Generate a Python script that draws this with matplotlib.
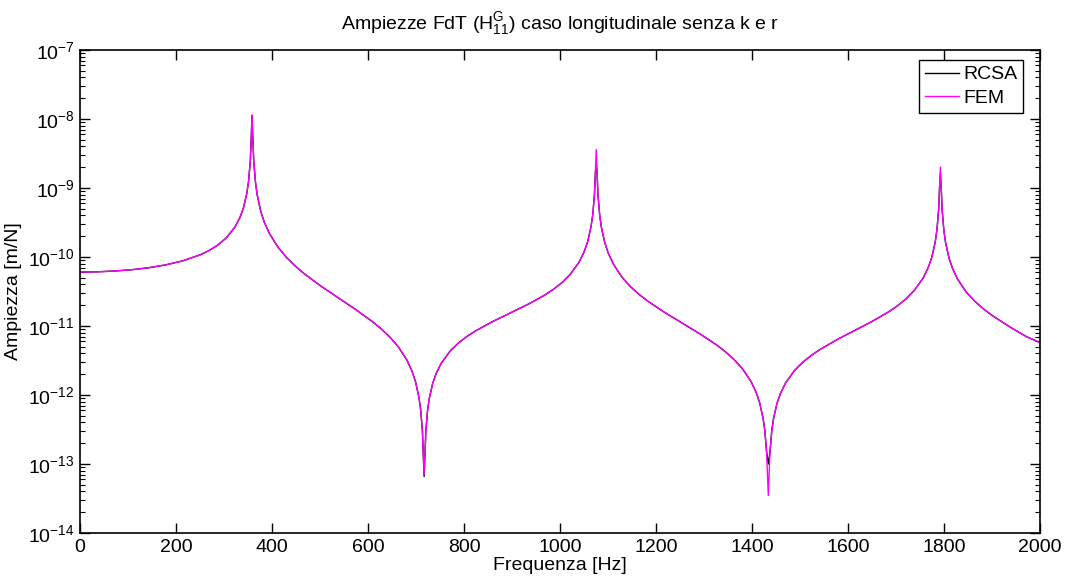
import matplotlib
matplotlib.use("Agg")
import matplotlib.pyplot as plt
from matplotlib.ticker import FixedLocator, LogFormatterSciNotation, NullFormatter

plt.rcParams['font.family'] = ['Liberation Sans', 'DejaVu Sans']
plt.rcParams['mathtext.fontset'] = 'custom'
plt.rcParams['mathtext.rm'] = 'Liberation Sans'
plt.rcParams['mathtext.it'] = 'Liberation Sans'
plt.rcParams['mathtext.default'] = 'regular'

# Frequencies [Hz]
freq = [0.0, 35.9, 71.7, 107.6, 143.4, 179.3, 215.1, 251.0, 268.9, 286.8, 304.7,
        322.7, 333.4, 340.6, 347.7, 351.3, 354.9, 356.7, 358.5, 360.3, 362.1,
        365.7, 369.3, 376.4, 383.6, 394.4, 412.3, 430.2, 448.1, 466.1, 501.9, 537.8,
        573.6, 609.5, 627.4, 645.3, 663.2, 681.2, 691.9, 699.1, 706.2, 709.8, 713.4,
        717.0, 720.6, 724.2, 727.8, 734.9, 742.1, 752.9, 770.8, 788.7, 806.6, 824.6,
        860.4, 896.3, 932.1, 968.0, 985.9, 1003.8, 1021.7, 1039.7, 1050.4, 1057.6, 1064.7,
        1068.3, 1071.9, 1073.7, 1075.5, 1077.3, 1079.1, 1082.7, 1086.3, 1093.4, 1100.6,
        1111.4, 1129.3, 1147.2, 1165.1, 1183.1, 1218.9, 1254.8, 1290.6, 1326.5, 1344.4, 1362.3, 1380.2,
        1398.2, 1408.9, 1416.1, 1423.2, 1426.8, 1430.4, 1434.0, 1437.6, 1441.2, 1444.8,
        1451.9, 1459.1, 1469.9, 1487.8, 1505.7, 1523.6, 1541.6, 1577.4, 1613.3, 1649.1, 1685.0,
        1702.9, 1720.8, 1738.7, 1756.7, 1767.4, 1774.6, 1781.7, 1785.3, 1788.9, 1790.7, 1792.5,
        1794.3, 1796.1, 1799.7, 1803.3, 1810.4, 1817.6, 1828.4, 1846.3, 1864.2, 1882.1, 1900.1,
        1935.9, 1971.8, 2000.0]

# FEM amplitude [m/N]
fem = [6.05e-11, 6.10e-11, 6.26e-11, 6.54e-11, 6.99e-11, 7.70e-11, 8.83e-11, 1.080e-10, 1.240e-10, 1.482e-10, 1.887e-10,
       2.702e-10, 3.75e-10, 5.15e-10, 8.42e-10, 1.251e-9, 2.47e-9, 4.93e-9, 1.15e-8, 4.88e-9, 2.43e-9,
       1.202e-9, 7.93e-10, 4.66e-10, 3.26e-10, 2.211e-10, 1.395e-10, 9.88e-11, 7.44e-11, 5.81e-11, 3.79e-11, 2.568e-11,
       1.749e-11, 1.154e-11, 9.12e-12, 6.95e-12, 5.00e-12, 3.21e-12, 2.20e-12, 1.555e-12, 9.22e-13, 6.12e-13, 3.04e-13,
       6.9e-14, 3.01e-13, 5.99e-13, 8.95e-13, 1.479e-12, 2.054e-12, 2.905e-12, 4.30e-12, 5.69e-12, 7.09e-12, 8.53e-12,
       1.166e-11, 1.540e-11, 2.039e-11, 2.80e-11, 3.38e-11, 4.23e-11, 5.63e-11, 8.39e-11, 1.191e-10, 1.659e-10, 2.75e-10,
       4.11e-10, 8.20e-10, 1.637e-9, 3.6e-9, 1.632e-9, 8.14e-10, 4.06e-10, 2.695e-10, 1.604e-10, 1.136e-10,
       7.85e-11, 5.09e-11, 3.70e-11, 2.861e-11, 2.291e-11, 1.559e-11, 1.100e-11, 7.77e-12, 5.31e-12, 4.25e-12, 3.29e-12, 2.40e-12,
       1.565e-12, 1.082e-12, 7.67e-13, 4.57e-13, 3.04e-13, 1.516e-13, 3.5e-14, 1.509e-13, 3.01e-13, 4.51e-13,
       7.48e-13, 1.045e-12, 1.488e-12, 2.23e-12, 2.98e-12, 3.75e-12, 4.56e-12, 6.36e-12, 8.56e-12, 1.153e-11, 1.608e-11,
       1.958e-11, 2.47e-11, 3.31e-11, 4.96e-11, 7.08e-11, 9.89e-11, 1.643e-10, 2.46e-10, 4.91e-10, 9.81e-10, 2.0e-9,
       9.80e-10, 4.89e-10, 2.44e-10, 1.623e-10, 9.69e-11, 6.88e-11, 4.77e-11, 3.11e-11, 2.280e-11, 1.771e-11, 1.426e-11,
       9.82e-12, 7.01e-12, 5.75e-12]

# RCSA differs from FEM only at the peaks / antiresonances: (frequency, amplitude)
rcsa_extrema_freq = [358.5, 717.0, 1075.5, 1434.0, 1792.5]
rcsa_extrema_amp = [1.12e-8, 6.6e-14, 2.3e-9, 1.0e-13, 1.6e-9]

rcsa = list(fem)
for f0, a0 in zip(rcsa_extrema_freq, rcsa_extrema_amp):
    rcsa[freq.index(f0)] = a0

xticks = [0, 200, 400, 600, 800, 1000, 1200, 1400, 1600, 1800, 2000]
yticks = [1e-14, 1e-13, 1e-12, 1e-11, 1e-10, 1e-9, 1e-8, 1e-7]

fig = plt.figure(figsize=(10.66, 5.84), dpi=100)
ax = fig.add_axes([0.075, 0.0873, 0.9006, 0.8271])

ax.plot(freq, rcsa, color='black', lw=1.0, label='RCSA')
ax.plot(freq, fem, color='#FF00FF', lw=1.0, label='FEM')

ax.set_yscale('log')
ax.set_xlim(0, 2000)
ax.set_ylim(1e-14, 1e-7)
ax.xaxis.set_major_locator(FixedLocator(xticks))
ax.yaxis.set_major_locator(FixedLocator(yticks))
ax.yaxis.set_major_formatter(LogFormatterSciNotation())
minor = [m * d for d in yticks[:-1] for m in range(2, 10)]
ax.yaxis.set_minor_locator(FixedLocator(minor))
ax.yaxis.set_minor_formatter(NullFormatter())

ax.tick_params(which='both', direction='in', top=True, right=True, labelsize=14, pad=4)
ax.tick_params(which='major', length=7, width=1)
ax.tick_params(which='minor', length=3.5, width=0.8)
for s in ax.spines.values():
    s.set_linewidth(1.2)

ax.set_title('Ampiezze FdT (H$^{G}_{11}$) caso longitudinale senza k e r', fontsize=14, pad=15)
ax.set_xlabel('Frequenza [Hz]', fontsize=14, labelpad=1)
ax.set_ylabel('Ampiezza [m/N]', fontsize=14, labelpad=4)

leg = ax.legend(loc='upper right', bbox_to_anchor=(0.9823, 0.9793), fontsize=14,
                frameon=True, fancybox=False, edgecolor='black', framealpha=1,
                borderpad=0.3, labelspacing=0.32, handlelength=1.75,
                handletextpad=0.2, borderaxespad=0.0)
leg.get_frame().set_linewidth(1.0)

fig.savefig('out.png', dpi=100)
